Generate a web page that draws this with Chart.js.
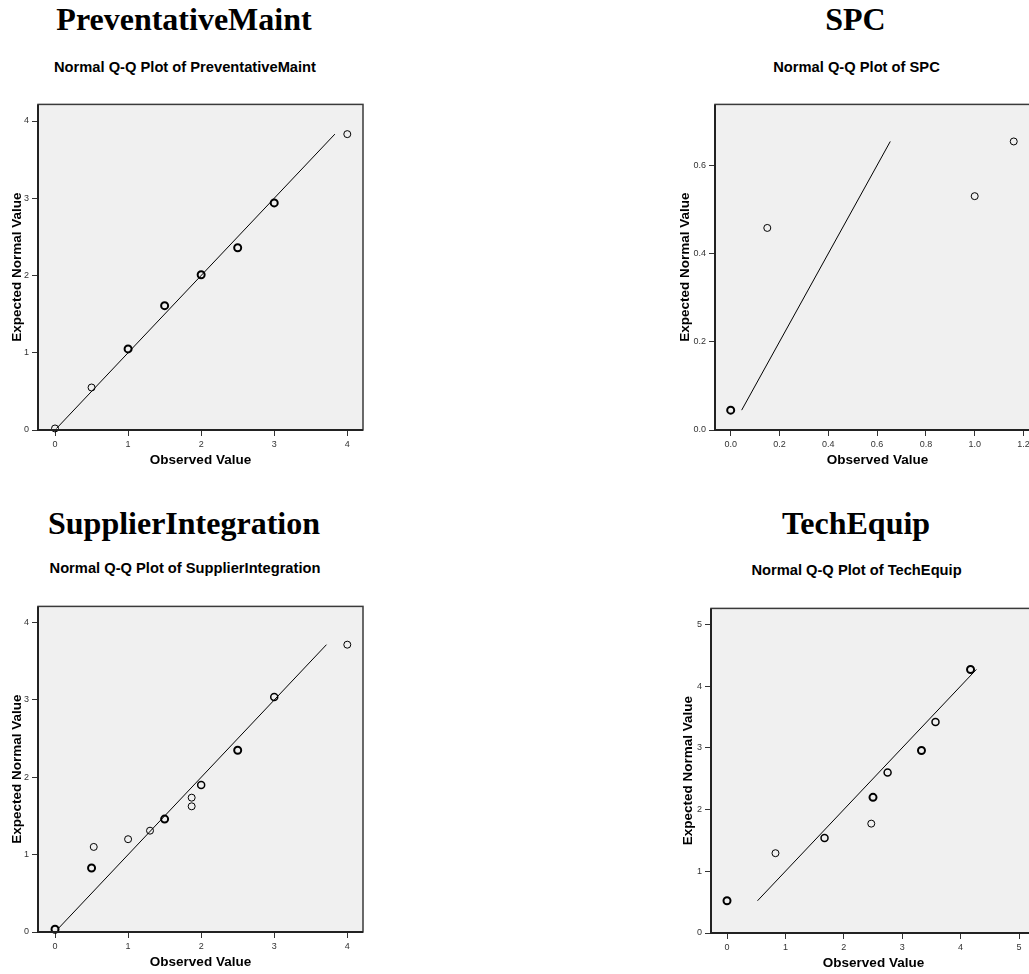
<!DOCTYPE html>
<html>
<head>
<meta charset="utf-8">
<title>Normal Q-Q Plots</title>
<script src="https://cdn.jsdelivr.net/npm/chart.js@4.4.1/dist/chart.umd.min.js"></script>
<style>
  html, body { margin: 0; padding: 0; background: #fff; width: 1029px; height: 974px; overflow: hidden; }
  #page { position: relative; width: 1029px; height: 974px; overflow: hidden; }
  .head {
    position: absolute; white-space: nowrap; transform: translateX(-50%); color: #000;
    font-family: "Liberation Serif", "Times New Roman", serif; font-weight: bold;
    font-size: 32px; line-height: 32px;
  }
  .sub {
    position: absolute; white-space: nowrap; transform: translateX(-50%); color: #000;
    font-family: "Liberation Sans", Arial, sans-serif; font-weight: bold;
    font-size: 14.7px; line-height: 14.7px;
  }
  canvas { position: absolute; }
</style>
</head>
<body>
<div id="page">
  <div class="head" style="left:184px; top:2.5px;">PreventativeMaint</div>
  <div class="sub"  style="left:185px; top:60px;">Normal Q-Q Plot of PreventativeMaint</div>
  <canvas id="qqPM" width="362" height="374" style="left:9px; top:96px;"></canvas>

  <div class="head" style="left:855.5px; top:2.5px;">SPC</div>
  <div class="sub"  style="left:856.5px; top:60px;">Normal Q-Q Plot of SPC</div>
  <canvas id="qqSPC" width="371" height="374" style="left:677px; top:96px;"></canvas>

  <div class="head" style="left:184px; top:506.5px;">SupplierIntegration</div>
  <div class="sub"  style="left:185px; top:561px;">Normal Q-Q Plot of SupplierIntegration</div>
  <canvas id="qqSI" width="362" height="374" style="left:9px; top:598px;"></canvas>

  <div class="head" style="left:856px; top:506.5px;">TechEquip</div>
  <div class="sub"  style="left:856.5px; top:562.5px;">Normal Q-Q Plot of TechEquip</div>
  <canvas id="qqTE" width="364" height="373" style="left:680px; top:600px;"></canvas>
</div>

<script>
// ---- PreventativeMaint ----
const pmObserved = [0, 0.5, 1, 1.5, 2, 2.5, 3, 4];
const pmExpected = [0.02, 0.55, 1.05, 1.61, 2.01, 2.36, 2.94, 3.83];
const pmCases    = [1, 1, 3, 3, 3, 3, 3, 1];
const pmXTicks = [0, 1, 2, 3, 4];
const pmYTicks = [0, 1, 2, 3, 4];

// ---- SPC ----
const spcObserved = [0, 0.15, 1.0, 1.16];
const spcExpected = [0.045, 0.458, 0.53, 0.654];
const spcCases    = [3, 1, 1, 1];
const spcXTicks = [0.0, 0.2, 0.4, 0.6, 0.8, 1.0, 1.2];
const spcYTicks = [0.0, 0.2, 0.4, 0.6];

// ---- SupplierIntegration ----
const siObserved = [0, 0.5, 0.53, 1.0, 1.3, 1.5, 1.87, 1.87, 2.0, 2.5, 3.0, 4.0];
const siExpected = [0.035, 0.827, 1.10, 1.20, 1.31, 1.46, 1.625, 1.737, 1.90, 2.35, 3.04, 3.715];
const siCases    = [3, 3, 1, 1, 1, 3, 1, 1, 2, 3, 2, 1];
const siXTicks = [0, 1, 2, 3, 4];
const siYTicks = [0, 1, 2, 3, 4];

// ---- TechEquip ----
const teObserved = [0, 0.83, 1.67, 2.47, 2.5, 2.75, 3.33, 3.57, 4.17];
const teExpected = [0.522, 1.293, 1.54, 1.772, 2.198, 2.60, 2.957, 3.42, 4.27];
const teCases    = [3, 1, 2, 1, 3, 2, 3, 2, 3];
const teXTicks = [0, 1, 2, 3, 4, 5];
const teYTicks = [0, 1, 2, 3, 4, 5];

const SANS = "'Liberation Sans', Arial, sans-serif";
Chart.defaults.font.family = SANS;

// light grey plot area with a dark frame, heavier on the two axis sides
const plotFrame = {
  id: 'plotFrame',
  beforeDraw(chart) {
    const { ctx, chartArea: a } = chart;
    ctx.save();
    ctx.fillStyle = '#f0f0f0';
    ctx.fillRect(a.left, a.top, a.right - a.left, a.bottom - a.top);
    ctx.restore();
  },
  afterDatasetsDraw(chart) {
    const { ctx, chartArea: a } = chart;
    ctx.save();
    ctx.strokeStyle = '#3a3a3a';
    ctx.lineWidth = 1.5;
    ctx.strokeRect(a.left, a.top, a.right - a.left, a.bottom - a.top);
    ctx.strokeStyle = '#222';
    ctx.lineWidth = 2;
    ctx.beginPath();
    ctx.moveTo(a.left, a.top);
    ctx.lineTo(a.left, a.bottom);
    ctx.lineTo(a.right, a.bottom);
    ctx.stroke();
    ctx.restore();
  }
};

function axis(ticks, decimals, min, max, extra) {
  return Object.assign({
    type: 'linear',
    min: min,
    max: max,
    afterBuildTicks: s => { s.ticks = ticks.map(v => ({ value: v })); },
    grid: { drawOnChartArea: false, drawTicks: true, tickLength: 6, color: '#333', lineWidth: 1 },
    border: { display: false },
    ticks: {
      autoSkip: false, maxRotation: 0, color: '#333',
      font: { size: 9, family: SANS },
      callback: v => Number(v).toFixed(decimals)
    }
  }, extra);
}

function qqPlot(id, observed, expected, cases, p) {
  const lo = Math.min(...expected);
  const hi = Math.max(...expected);
  new Chart(document.getElementById(id), {
    type: 'scatter',
    data: {
      datasets: [
        {
          // reference line y = x across the range of expected values
          data: [{ x: lo, y: lo }, { x: hi, y: hi }],
          showLine: true,
          borderColor: '#000',
          borderWidth: 1,
          pointRadius: 0,
          order: 2
        },
        {
          data: observed.map((x, i) => ({ x: x, y: expected[i] })),
          pointStyle: 'circle',
          pointRadius: 3.5,
          pointBorderColor: '#000',
          pointBackgroundColor: 'rgba(0,0,0,0)',
          pointBorderWidth: cases.map(n => Math.min(1 + 0.5 * (n - 1), 2)),
          clip: false,
          order: 1
        }
      ]
    },
    options: {
      responsive: false,
      animation: false,
      devicePixelRatio: 1,
      events: [],
      layout: { padding: { top: 8, right: 8, left: 0, bottom: 0 } },
      plugins: { legend: { display: false }, tooltip: { enabled: false } },
      scales: {
        x: axis(p.xTicks, p.xDec, p.xMin, p.xMax, {
          afterFit: s => { s.height = 40; },
          title: {
            display: true, text: 'Observed Value', color: '#000',
            font: { size: 13.5, weight: 'bold', family: SANS },
            padding: { top: 0, bottom: 2 }
          }
        }),
        y: axis(p.yTicks, p.yDec, p.yMin, p.yMax, {
          afterFit: s => { s.width = p.yWidth; },
          title: {
            display: true, text: 'Expected Normal Value', color: '#000',
            font: { size: 13.5, weight: 'bold', family: SANS },
            padding: { top: 0, bottom: 0 }
          }
        })
      }
    },
    plugins: [plotFrame]
  });
}

qqPlot('qqPM', pmObserved, pmExpected, pmCases, {
  xTicks: pmXTicks, xDec: 0, xMin: -0.233, xMax: 4.215,
  yTicks: pmYTicks, yDec: 0, yMin: 0, yMax: 4.215, yWidth: 29
});
qqPlot('qqSPC', spcObserved, spcExpected, spcCases, {
  xTicks: spcXTicks, xDec: 1, xMin: -0.0643, xMax: 1.2676,
  yTicks: spcYTicks, yDec: 1, yMin: 0, yMax: 0.738, yWidth: 38
});
qqPlot('qqSI', siObserved, siExpected, siCases, {
  xTicks: siXTicks, xDec: 0, xMin: -0.233, xMax: 4.215,
  yTicks: siYTicks, yDec: 0, yMin: 0, yMax: 4.21, yWidth: 29
});
qqPlot('qqTE', teObserved, teExpected, teCases, {
  xTicks: teXTicks, xDec: 0, xMin: -0.274, xMax: 5.291,
  yTicks: teYTicks, yDec: 0, yMin: 0, yMax: 5.259, yWidth: 31
});
</script>
</body>
</html>
